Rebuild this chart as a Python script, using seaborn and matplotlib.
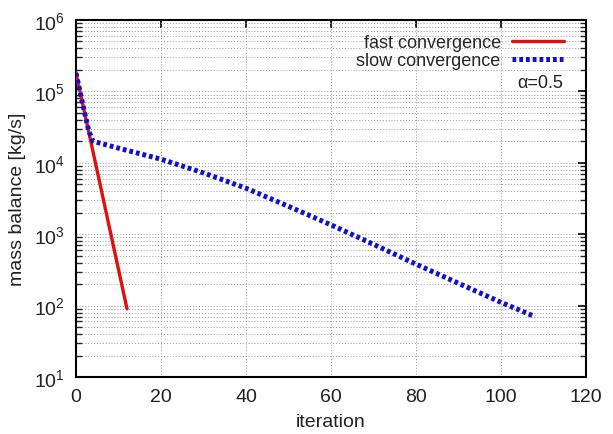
import numpy as np
import pandas as pd
import matplotlib
matplotlib.use("Agg")
import matplotlib.pyplot as plt
import seaborn as sns
from matplotlib.ticker import LogLocator, FixedLocator

# Data
fast_iter = [0, 12]
fast_mass = [1.8e5, 90]

slow_iter = [0, 1, 2, 3, 4, 10, 20, 30, 40, 50, 60, 70, 80, 90, 100, 108]
slow_mass = [1.8e5, 9.5e4, 5.1e4, 2.8e4, 2.0e4, 1.6e4, 1.12e4, 7.2e3, 4.4e3,
             2.45e3, 1.35e3, 720, 380, 205, 111, 70]

x_ticks = [0, 20, 40, 60, 80, 100, 120]
labels = ["fast convergence", "slow convergence"]

sns.set_theme(style="white")
plt.rcParams['font.family'] = ['Liberation Sans', 'DejaVu Sans']
plt.rcParams['mathtext.fontset'] = 'custom'
plt.rcParams['mathtext.rm'] = 'Liberation Sans'
plt.rcParams['mathtext.it'] = 'Liberation Sans'

fig = plt.figure(figsize=(6.13, 4.35), dpi=100)
ax = fig.add_axes([0.124, 0.131, 0.832, 0.821])

df_fast = pd.DataFrame({"iteration": fast_iter, "mass": fast_mass})
df_slow = pd.DataFrame({"iteration": slow_iter, "mass": slow_mass})

sns.lineplot(data=df_fast, x="iteration", y="mass", ax=ax, color="#e01010",
             linewidth=2.4, label=labels[0], zorder=3)
sns.lineplot(data=df_slow, x="iteration", y="mass", ax=ax, color="#1010d0",
             linewidth=3.6, linestyle=(0, (0.75, 0.6)), label=labels[1], zorder=4)

ax.set_yscale("log")
ax.set_xlim(0, 120)
ax.set_ylim(10, 1e6)
ax.xaxis.set_major_locator(FixedLocator(x_ticks))
ax.yaxis.set_major_locator(LogLocator(base=10, numticks=10))
ax.yaxis.set_minor_locator(LogLocator(base=10, subs=np.arange(2, 10), numticks=20))

ax.grid(True, which="major", axis="both", color="#999999", linestyle=(0, (1, 2)), linewidth=0.7)
ax.grid(True, which="minor", axis="y", color="#999999", linestyle=(0, (1, 2)), linewidth=0.7)

ax.tick_params(axis="both", which="major", direction="in", length=6, width=1.2,
               top=True, right=True, labelsize=14, colors="black", pad=8)
ax.tick_params(axis="y", which="minor", direction="in", length=4, width=1.0,
               left=True, right=True)
ax.tick_params(axis="x", labelcolor="#222222")
ax.tick_params(axis="y", labelcolor="#222222")

for s in ax.spines.values():
    s.set_color("black")
    s.set_linewidth(1.5)

ax.set_xlabel("iteration", fontsize=14, color="#222222", labelpad=6)
ax.set_ylabel("mass balance [kg/s]", fontsize=14, color="#222222", labelpad=6)

leg = ax.legend(loc="upper right", markerfirst=False, frameon=False, fontsize=13,
                handlelength=2.9, borderaxespad=0.4, labelspacing=0.05,
                handletextpad=0.6, bbox_to_anchor=(0.985, 1.0))
ax.text(0.955, 0.825, "\u03b1=0.5", transform=ax.transAxes, ha="right",
        va="center", fontsize=13, color="#222222")

fig.savefig("out.png", dpi=100)
